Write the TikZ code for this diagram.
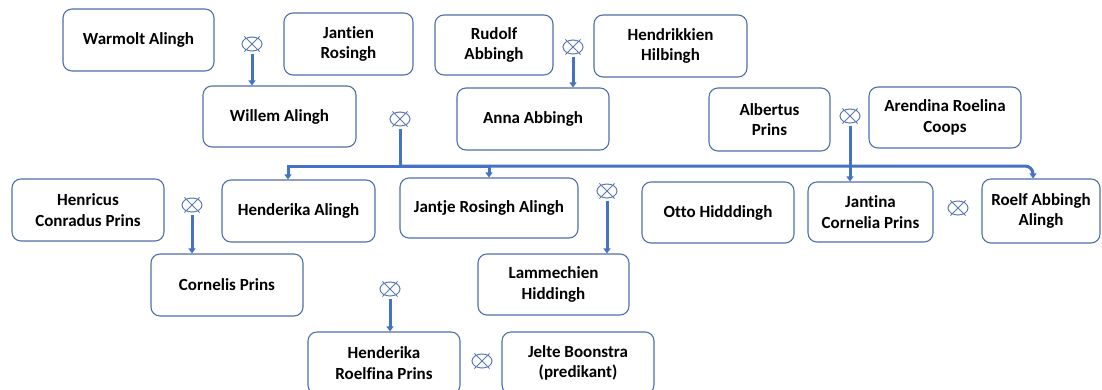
\documentclass[tikz,border=0pt]{standalone}
\usepackage{fontspec}
\setmainfont{Carlito}[Ligatures=NoCommon]
\usetikzlibrary{shapes.geometric,arrows.meta}
\definecolor{boxblue}{RGB}{80,112,172}
\definecolor{linkblue}{RGB}{68,114,196}
\definecolor{symblue}{RGB}{90,120,180}
\tikzset{
  pbox/.style={draw=boxblue, line width=1.1pt, rounded corners=9pt, fill=white,
    align=center, font=\fontsize{17}{20.5}\selectfont\bfseries, text=black, inner sep=2pt},
  marr/.style={ellipse, draw=symblue, line width=1pt, minimum width=20pt, minimum height=14pt, inner sep=0pt, outer sep=2.5pt},
  conn/.style={draw=linkblue, line width=3pt},
  tip/.style={-{Triangle[width=7pt,length=5pt]}},
}
\newcommand{\pbox}[6]{\node[pbox, minimum width=#4pt, minimum height=#5pt] (#1) at (#2,#3) {#6};}
\newcommand{\marr}[3]{\node[marr] (#1) at (#2,#3) {};
  \draw[symblue, line width=1pt] (#1.45) -- (#1.225) (#1.135) -- (#1.315);}
\begin{document}
\begin{tikzpicture}[x=1pt,y=-1pt]
\useasboundingbox (0,0) rectangle (1102,389);
\clip (0,0) rectangle (1102,389);
\fill[white] (0,0) rectangle (1102,389);
% persons
\pbox{warmolt}{138.5}{40}{151}{62}{Warmolt Alingh}
\pbox{jantien}{348.5}{44}{129}{62}{Jantien\\Rosingh}
\pbox{willem}{279.5}{116.5}{153}{61}{Willem Alingh}
\pbox{rudolf}{494}{45}{118}{60}{Rudolf\\Abbingh}
\pbox{hendrikkien}{670.5}{46}{153}{62}{Hendrikkien\\Hilbingh}
\pbox{anna}{533}{119}{152}{62}{Anna Abbingh}
\pbox{albertus}{769.5}{119.5}{121}{63}{Albertus\\Prins}
\pbox{arendina}{945}{117.5}{152}{61}{Arendina Roelina\\Coops}
\pbox{henricus}{88}{210}{152}{62}{Henricus\\Conradus Prins}
\pbox{henderika}{298.5}{211}{153}{62}{Henderika Alingh}
\pbox{jantje}{489}{208}{178}{60}{Jantje Rosingh Alingh}
\pbox{otto}{718}{212.5}{152}{61}{Otto Hidddingh}
\pbox{jantina}{870.5}{212}{125}{60}{Jantina\\Cornelia Prins}
\pbox{roelf}{1041}{211}{118}{64}{Roelf Abbingh\\Alingh}
\pbox{cornelis}{227}{285}{152}{62}{Cornelis Prins}
\pbox{lammechien}{553.5}{284.5}{151}{61}{Lammechien\\Hiddingh}
\pbox{hrprins}{384}{363}{152}{62}{Henderika\\Roelfina Prins}
\pbox{jelte}{578}{363}{152}{62}{Jelte Boonstra\\(predikant)}
% marriage symbols
\marr{m1}{252}{44}
\marr{m2}{573}{47}
\marr{m3}{400}{119}
\marr{m4}{850}{116}
\marr{m5}{192}{205}
\marr{m6}{607}{191}
\marr{m7}{958}{208}
\marr{m8}{390}{289}
\marr{m9}{482}{361}
% descent lines
\draw[conn,tip] (m1.south) -- (m1.south |- willem.north);
\draw[conn,tip] (m2.south) -- (m2.south |- anna.north);
\draw[conn,tip] (m4.south) -- (m4.south |- jantina.north);
\draw[conn,tip] (m5.south) -- (m5.south |- cornelis.north);
\draw[conn,tip] (m6.south) -- (m6.south |- lammechien.north);
\draw[conn,tip] (m8.south) -- (m8.south |- hrprins.north);
% bus of Willem & Anna
\coordinate (bus) at (400,166);
\coordinate (hkin) at ([xshift=-10.5pt]henderika.north);
\coordinate (roin) at ([xshift=-8pt]roelf.north);
\draw[conn] (m3.south) -- (bus);
\draw[conn,tip] (bus) -| (hkin);
\draw[conn,tip] (bus) -| (jantje.north);
\draw[conn,tip,rounded corners=8pt] (bus) -| (roin);
\end{tikzpicture}
\end{document}
